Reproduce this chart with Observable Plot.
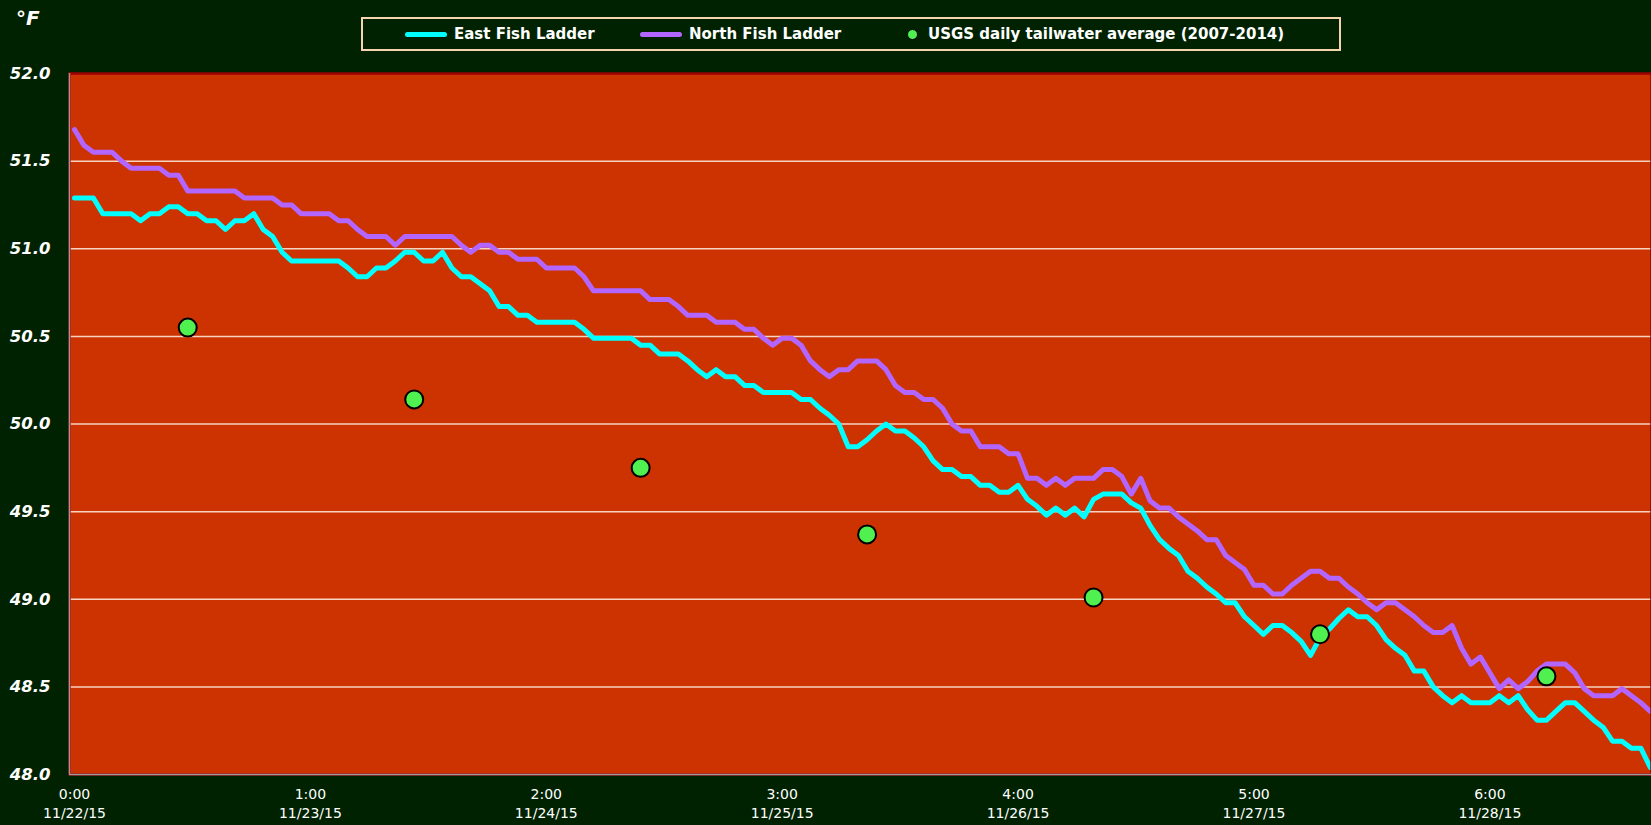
<!DOCTYPE html>
<html><head><meta charset="utf-8">
<script src="https://cdn.jsdelivr.net/npm/d3@7"></script>
<script src="https://cdn.jsdelivr.net/npm/@observablehq/plot@0.6"></script>
<style>
html,body{margin:0;padding:0;background:#002200;}
#wrap{position:relative;width:1651px;height:825px;overflow:hidden;background:#002200;}
#chart svg{display:block;}
#unit{position:absolute;left:16px;top:8px;font:italic bold 20px "DejaVu Sans";color:#fff;line-height:20px;}
#legend{position:absolute;left:361px;top:17px;width:980px;height:34px;box-sizing:border-box;border:2px solid #f5d5ae;background:#002200;}
.item{position:absolute;top:0;height:100%;display:flex;align-items:center;font:bold 15px "DejaVu Sans";color:#fff;white-space:nowrap;}
.sw{width:42px;height:5px;border-radius:3px;margin-right:7px;}
.dotsw{width:9px;height:9px;border-radius:50%;border:1.5px solid #000;margin-right:10px;}
g[aria-label="y-axis tick label"] text{font-weight:bold;font-style:italic;}
</style></head>
<body><div id="wrap"><div id="chart"></div><div id="unit">°F</div><div id="legend"></div></div>
<script>
// Hourly temperatures (°F) starting 11/22/15 0:00
const eastTemps = [
51.29,51.29,51.29,51.20,51.20,51.20,51.20,51.16,51.20,51.20,51.24,51.24,
51.20,51.20,51.16,51.16,51.11,51.16,51.16,51.20,51.11,51.07,50.98,50.93,
50.93,50.93,50.93,50.93,50.93,50.89,50.84,50.84,50.89,50.89,50.93,50.98,
50.98,50.93,50.93,50.98,50.89,50.84,50.84,50.80,50.76,50.67,50.67,50.62,
50.62,50.58,50.58,50.58,50.58,50.58,50.54,50.49,50.49,50.49,50.49,50.49,
50.45,50.45,50.40,50.40,50.40,50.36,50.31,50.27,50.31,50.27,50.27,50.22,
50.22,50.18,50.18,50.18,50.18,50.14,50.14,50.09,50.05,50.00,49.87,49.87,
49.91,49.96,50.00,49.96,49.96,49.92,49.87,49.79,49.74,49.74,49.70,49.70,
49.65,49.65,49.61,49.61,49.65,49.57,49.53,49.48,49.52,49.48,49.52,49.47,
49.57,49.60,49.60,49.60,49.55,49.52,49.42,49.34,49.29,49.25,49.16,49.12,
49.07,49.03,48.98,48.98,48.90,48.85,48.80,48.85,48.85,48.81,48.76,48.68,
48.78,48.83,48.89,48.94,48.90,48.90,48.85,48.77,48.72,48.68,48.59,48.59,
48.50,48.45,48.41,48.45,48.41,48.41,48.41,48.45,48.41,48.45,48.37,48.31,
48.31,48.36,48.41,48.41,48.36,48.31,48.27,48.19,48.19,48.15,48.15,48.04];

const northTemps = [
51.68,51.59,51.55,51.55,51.55,51.50,51.46,51.46,51.46,51.46,51.42,51.42,
51.33,51.33,51.33,51.33,51.33,51.33,51.29,51.29,51.29,51.29,51.25,51.25,
51.20,51.20,51.20,51.20,51.16,51.16,51.11,51.07,51.07,51.07,51.02,51.07,
51.07,51.07,51.07,51.07,51.07,51.02,50.98,51.02,51.02,50.98,50.98,50.94,
50.94,50.94,50.89,50.89,50.89,50.89,50.84,50.76,50.76,50.76,50.76,50.76,
50.76,50.71,50.71,50.71,50.67,50.62,50.62,50.62,50.58,50.58,50.58,50.54,
50.54,50.49,50.45,50.49,50.49,50.45,50.36,50.31,50.27,50.31,50.31,50.36,
50.36,50.36,50.31,50.22,50.18,50.18,50.14,50.14,50.09,50.00,49.96,49.96,
49.87,49.87,49.87,49.83,49.83,49.69,49.69,49.65,49.69,49.65,49.69,49.69,
49.69,49.74,49.74,49.70,49.60,49.69,49.56,49.52,49.52,49.47,49.43,49.39,
49.34,49.34,49.25,49.21,49.17,49.08,49.08,49.03,49.03,49.08,49.12,49.16,
49.16,49.12,49.12,49.07,49.03,48.98,48.94,48.98,48.98,48.94,48.90,48.85,
48.81,48.81,48.85,48.72,48.63,48.67,48.58,48.49,48.54,48.49,48.53,48.59,
48.63,48.63,48.63,48.58,48.49,48.45,48.45,48.45,48.49,48.45,48.41,48.36];

// USGS daily tailwater average (2007-2014), one value per day at noon
const usgsHours = [12, 36, 60, 84, 108, 132, 156];
const usgsTemps = [50.55, 50.14, 49.75, 49.37, 49.01, 48.80, 48.56];

// Axis ticks and labels
const tickHours = [0, 25, 50, 75, 100, 125, 150];
const tickTimes = ["0:00", "1:00", "2:00", "3:00", "4:00", "5:00", "6:00"];
const tickDates = ["11/22/15", "11/23/15", "11/24/15", "11/25/15", "11/26/15", "11/27/15", "11/28/15"];
const yTicks = [48, 48.5, 49, 49.5, 50, 50.5, 51, 51.5, 52];
const yTickLabels = ["48.0", "48.5", "49.0", "49.5", "50.0", "50.5", "51.0", "51.5", "52.0"];
const xDomain = [-0.53, 167.13];
const yDomain = [48, 52];

const seriesNames = ["East Fish Ladder", "North Fish Ladder", "USGS daily tailwater average (2007-2014)"];
const seriesColors = ["#00ffff", "#b266ff", "#4ff04f"];

const east = eastTemps.map((t, i) => ({hour: i, temp: t}));
const north = northTemps.map((t, i) => ({hour: i, temp: t}));
const usgs = usgsHours.map((h, i) => ({hour: h, temp: usgsTemps[i]}));

const chart = Plot.plot({
  width: 1651, height: 825,
  marginLeft: 69, marginRight: 0, marginTop: 73, marginBottom: 51,
  style: {background: "transparent", color: "#fff", fontFamily: "DejaVu Sans", overflow: "visible"},
  x: {domain: xDomain},
  y: {domain: yDomain},
  marks: [
    Plot.frame({fill: "#cc3300", stroke: "none"}),
    Plot.ruleY(yTicks.slice(1, -1), {stroke: "#f7d4c2", strokeWidth: 1.5}),
    Plot.lineY(east, {x: "hour", y: "temp", stroke: seriesColors[0], strokeWidth: 5, strokeLinejoin: "round", strokeLinecap: "round"}),
    Plot.lineY(north, {x: "hour", y: "temp", stroke: seriesColors[1], strokeWidth: 5, strokeLinejoin: "round", strokeLinecap: "round"}),
    Plot.dot(usgs, {x: "hour", y: "temp", r: 9, fill: seriesColors[2], stroke: "#000", strokeWidth: 2}),
    Plot.frame({stroke: "#990000", strokeWidth: 2.5}),
    Plot.ruleY([yDomain[0]], {stroke: "#9a9a9a", strokeWidth: 1.5}),
    Plot.ruleX([xDomain[0]], {stroke: "#9a9a9a", strokeWidth: 1.5}),
    Plot.axisY({ticks: yTicks, tickFormat: d => yTickLabels[yTicks.indexOf(d)], tickSize: 0, tickPadding: 19, fontSize: 16.5, fontWeight: "bold", fontStyle: "italic", label: null}),
    Plot.axisX({ticks: tickHours, tickFormat: d => tickTimes[tickHours.indexOf(d)], tickSize: 0, tickPadding: 15, fontSize: 14, label: null}),
    Plot.axisX({ticks: tickHours, tickFormat: d => tickDates[tickHours.indexOf(d)], tickSize: 0, tickPadding: 34, fontSize: 14, label: null})
  ]
});
document.getElementById("chart").appendChild(chart);

// Legend
const legend = document.getElementById("legend");
const legendLefts = [42, 277, 544];
seriesNames.forEach((name, i) => {
  const item = document.createElement("div");
  item.className = "item";
  item.style.left = legendLefts[i] + "px";
  const sw = document.createElement("span");
  sw.className = i < 2 ? "sw" : "dotsw";
  sw.style.background = seriesColors[i];
  item.appendChild(sw);
  const tx = document.createElement("span");
  tx.textContent = name;
  item.appendChild(tx);
  legend.appendChild(item);
});
</script>
</body></html>
